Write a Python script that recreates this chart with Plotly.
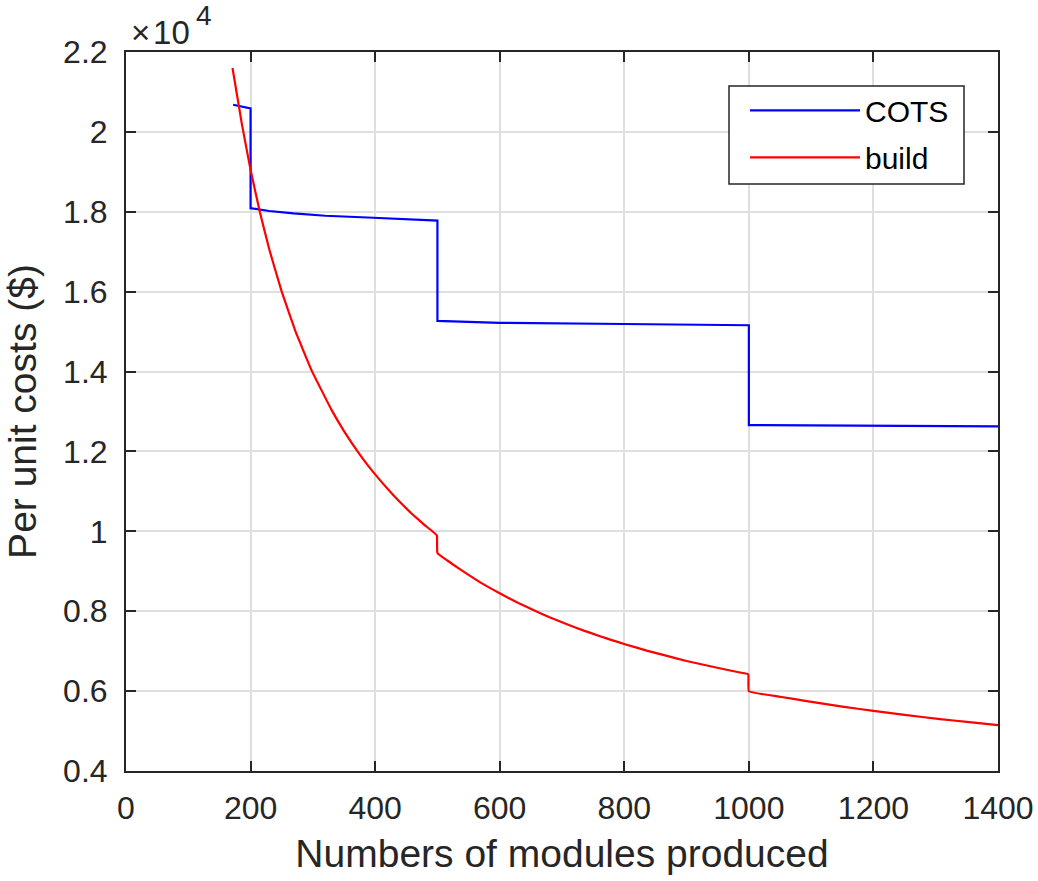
import plotly.graph_objects as go

# ---- data ----
cots_x = [172, 200, 200, 230, 269, 320, 397, 500, 500, 600, 800, 1000, 1000, 1200, 1400]
cots_y = [20680, 20590, 18090, 18020, 17960, 17900, 17850, 17780, 15270, 15220, 15190, 15160, 12660, 12645, 12630]

build_x = [171, 186, 200, 215, 230, 250, 272, 298, 330, 350, 376, 400, 429, 450, 461, 480, 499,
           500, 516, 525, 547, 570, 600, 630, 654, 680, 708, 735, 761, 780, 801, 836, 870, 900,
           940, 970, 986, 999, 1000, 1050, 1093, 1150, 1200, 1250, 1307, 1350, 1400]
build_y = [21600, 20200, 19050, 17990, 17060, 16000, 15010, 14030, 13040, 12510, 11910, 11425,
           10910, 10575, 10410, 10150, 9900, 9460, 9270, 9170, 8940, 8710, 8450, 8205, 8030, 7850,
           7675, 7515, 7375, 7277, 7175, 7015, 6875, 6755, 6615, 6515, 6465, 6420, 6000, 5858, 5750,
           5612, 5505, 5405, 5300, 5229, 5150]

x_ticks = [0, 200, 400, 600, 800, 1000, 1200, 1400]
y_ticks = [4000, 6000, 8000, 10000, 12000, 14000, 16000, 18000, 20000, 22000]
y_tick_text = ["0.4", "0.6", "0.8", "1", "1.2", "1.4", "1.6", "1.8", "2", "2.2"]

FONT = "Liberation Sans, Arial, Helvetica, sans-serif"
AX = "#262626"
GRID = "#dfdfdf"

fig = go.Figure()
fig.add_trace(go.Scatter(x=cots_x, y=cots_y, mode="lines", name="COTS", legendgroup="a",
                         line=dict(color="#0000ff", width=2.2)))
fig.add_trace(go.Scatter(x=build_x, y=build_y, mode="lines", name="build", legendgroup="b",
                         line=dict(color="#ff0000", width=2.2, shape="spline", smoothing=0.3)))

axis_common = dict(
    showline=True, linewidth=2, linecolor=AX, mirror="ticks",
    ticks="inside", ticklen=10, tickwidth=2, tickcolor=AX,
    showgrid=True, gridcolor=GRID, gridwidth=1.6, zeroline=False,
    tickfont=dict(family=FONT, size=32, color=AX), automargin=False,
)

fig.update_xaxes(range=[0, 1400], tickvals=x_ticks, ticklabelstandoff=8,
                 title=dict(text="Numbers of modules produced",
                            font=dict(family=FONT, size=39, color=AX), standoff=14),
                 **axis_common)
fig.update_yaxes(range=[4000, 22000], tickvals=y_ticks, ticktext=y_tick_text,
                 ticklabelstandoff=10,
                 title=dict(text="Per unit costs ($)",
                            font=dict(family=FONT, size=39, color=AX), standoff=14),
                 **axis_common)

# x10^4 exponent label
fig.add_annotation(x=0.0035, y=1, xref="paper", yref="paper", xanchor="left", yanchor="middle",
                   text="×\u200a10", showarrow=False, yshift=20,
                   font=dict(family=FONT, size=33, color=AX))
fig.add_annotation(x=(204 - 126) / 872, y=1, xref="paper", yref="paper", xanchor="center",
                   yanchor="middle", text="4", showarrow=False, yshift=37,
                   font=dict(family=FONT, size=28, color=AX))

# legend box (frame drawn as a shape, legend entries on top)
fig.add_shape(type="rect", xref="paper", yref="paper",
              x0=(729 - 126) / 872, x1=(964 - 126) / 872,
              y0=(771 - 184) / 719, y1=(771 - 86) / 719,
              line=dict(color=AX, width=1.5), fillcolor="white", layer="above")

fig.update_layout(
    width=1038, height=881,
    margin=dict(l=126, r=40, t=52, b=110),
    plot_bgcolor="white", paper_bgcolor="white",
    showlegend=True,
    legend=dict(x=(745 - 126) / 872, y=0.955, xanchor="left", yanchor="top",
                bgcolor="rgba(0,0,0,0)", borderwidth=0,
                font=dict(family=FONT, size=30, color="black"),
                itemwidth=110, tracegroupgap=5),
)

fig.write_html("out.html")
